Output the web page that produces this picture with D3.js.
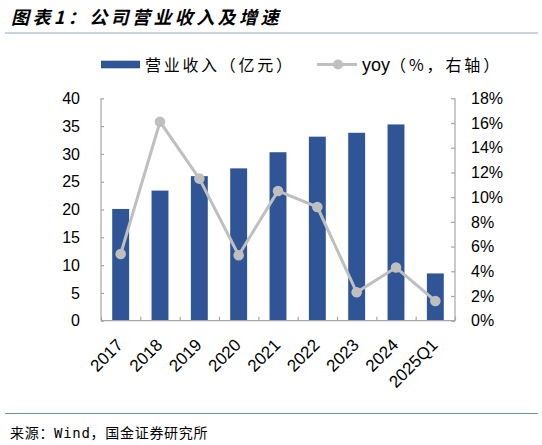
<!DOCTYPE html>
<html><head><meta charset="utf-8">
<script src="https://cdn.jsdelivr.net/npm/d3@7"></script>
<style>
body{margin:0;background:#fff;}
svg{display:block;}
</style></head>
<body><svg id="c" width="542" height="445"></svg>
<script>
const categories = ["2017","2018","2019","2020","2021","2022","2023","2024","2025Q1"];
const revenue = [20.1, 23.4, 26.0, 27.4, 30.3, 33.1, 33.8, 35.3, 8.5];
const yoy = [5.4, 16.1, 11.5, 5.3, 10.5, 9.2, 2.3, 4.3, 1.6];
const leftTicks = [0,5,10,15,20,25,30,35,40];
const rightTicks = [0,2,4,6,8,10,12,14,16,18];
const title = "图表1：公司营业收入及增速";
const source = "来源：Wind，国金证券研究所";
const legendBar = "营业收入（亿元）";
const legendLine = "yoy（%，右轴）";

const svg = d3.select("#c");
const L = 101, R = 455, T = 98.3, B = 320.7;
const barColor = "#2F5597", lineColor = "#BFBFBF", axisColor = "#A6A6A6";
const font = "'Liberation Sans', Arial, sans-serif";
const cjk = "'Noto Sans CJK SC', sans-serif";

const x = d3.scaleBand().domain(categories).range([L, R]).paddingInner(0.57).paddingOuter(0.285);
const xb = d3.scaleBand().domain(categories).range([L, R]);
const yL = d3.scaleLinear().domain([0, 40]).range([B, T]);
const yR = d3.scaleLinear().domain([0, 18]).range([B, T]);

// title
svg.append("text").attr("x", 11).attr("y", 24).text(title)
  .attr("font-family", cjk).attr("font-size", 18)
  .attr("font-weight", "bold").attr("font-style", "italic").attr("letter-spacing", 3.4).attr("fill", "#000");
svg.append("line").attr("x1", 5).attr("x2", 538).attr("y1", 33).attr("y2", 33)
  .attr("stroke", "#B4C6D4").attr("stroke-width", 1.6);

// footer
svg.append("line").attr("x1", 5).attr("x2", 538).attr("y1", 413.5).attr("y2", 413.5)
  .attr("stroke", "#6C93AC").attr("stroke-width", 1);
svg.append("text").attr("x", 10).attr("y", 438).text(source)
  .attr("font-family", "'DejaVu Sans Mono', 'Noto Sans CJK SC', monospace").attr("font-size", 14)
  .attr("letter-spacing", 0.7).attr("fill", "#000");

// bars
svg.append("g").selectAll("rect").data(categories).join("rect")
  .attr("x", d => x(d)).attr("width", x.bandwidth())
  .attr("y", (d, i) => yL(revenue[i])).attr("height", (d, i) => B - yL(revenue[i]))
  .attr("fill", barColor);

// axes
const axL = svg.append("g").attr("transform", `translate(${L},0)`)
  .call(d3.axisRight(yL).tickValues(leftTicks).tickSize(3).tickFormat(""));
const axR = svg.append("g").attr("transform", `translate(${R},0)`)
  .call(d3.axisLeft(yR).tickValues(rightTicks).tickSize(4).tickFormat(""));
const bounds = categories.map(c => xb(c)).concat([R]);
const xs = d3.scaleLinear().domain([L, R]).range([L, R]);
const axB = svg.append("g").attr("transform", `translate(0,${B})`)
  .call(d3.axisTop(xs).tickValues(bounds).tickSize(4).tickFormat(""));
[axL, axR, axB].forEach(g => {
  g.select(".domain").attr("stroke", axisColor).attr("stroke-width", 1.2);
  g.selectAll(".tick line").attr("stroke", axisColor).attr("stroke-width", 1.2);
});
axL.select(".domain").attr("d", `M0,${T}V${B}`);
axR.select(".domain").attr("d", `M0,${T}V${B}`);
axB.select(".domain").attr("d", `M${L},0H${R}`);

// tick labels
svg.append("g").selectAll("text").data(leftTicks).join("text")
  .attr("x", 80).attr("y", d => yL(d)).attr("dy", "0.36em").attr("text-anchor", "end")
  .attr("font-family", font).attr("font-size", 16).text(d => d);
svg.append("g").selectAll("text").data(rightTicks).join("text")
  .attr("x", 471).attr("y", d => yR(d)).attr("dy", "0.36em").attr("text-anchor", "start")
  .attr("font-family", font).attr("font-size", 16).text(d => d + "%");
svg.append("g").selectAll("text").data(categories).join("text")
  .attr("transform", d => `translate(${xb(d) + xb.bandwidth()/2 - 1},${B + 21}) rotate(-45)`)
  .attr("text-anchor", "end").attr("dy", "0.36em")
  .attr("font-family", font).attr("font-size", 17).text(d => d);

// line
const cx = d => xb(d) + xb.bandwidth()/2;
svg.append("path").datum(categories)
  .attr("d", d3.line().x(d => cx(d)).y((d, i) => yR(yoy[i])))
  .attr("fill", "none").attr("stroke", lineColor).attr("stroke-width", 3);
svg.append("g").selectAll("circle").data(categories).join("circle")
  .attr("cx", d => cx(d)).attr("cy", (d, i) => yR(yoy[i])).attr("r", 5.3).attr("fill", lineColor);

// legend
svg.append("rect").attr("x", 101).attr("y", 60.7).attr("width", 39).attr("height", 7.6).attr("fill", barColor);
svg.append("text").attr("x", 145).attr("y", 70.5).text(legendBar)
  .attr("font-family", cjk).attr("font-size", 16).attr("letter-spacing", 2.7);
svg.append("line").attr("x1", 317).attr("x2", 357).attr("y1", 64.5).attr("y2", 64.5)
  .attr("stroke", lineColor).attr("stroke-width", 3);
svg.append("circle").attr("cx", 338).attr("cy", 64.5).attr("r", 5).attr("fill", lineColor);
const lt = svg.append("text").attr("x", 362).attr("y", 70.5)
  .attr("font-family", cjk).attr("font-size", 16).attr("letter-spacing", 2.9);
lt.append("tspan").attr("font-family", font).attr("font-size", 18).attr("letter-spacing", 0).text("yoy");
lt.append("tspan").text(legendLine.slice(3));
</script></body></html>
